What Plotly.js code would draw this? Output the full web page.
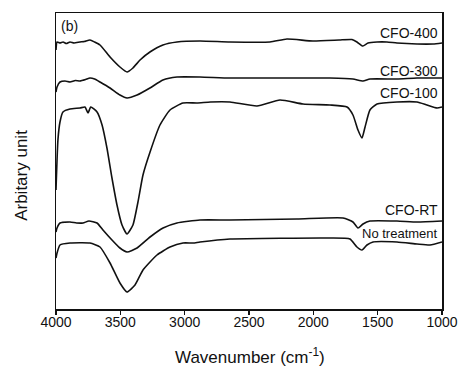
<!DOCTYPE html>
<html>
<head>
<meta charset="utf-8">
<script src="https://cdn.plot.ly/plotly-3.0.1.min.js"></script>
<style>html,body{margin:0;padding:0;background:#fff;}#chart{width:461px;height:366px;}</style>
</head>
<body>
<div id="chart"></div>
<script>
// Wavenumbers (cm^-1) and arbitrary-unit intensities
const wn400 = [4000,3992,3969,3945,3920,3891,3860,3814,3780,3736,3700,3658,3580,3503,3448,3402,3347,3270,3169,3060,2881,2648,2337,2205,2003,1800,1700,1661,1615,1575,1505,1428,1350,1194,1070,1000];
const cfo400 = [259,267,266,267,265.5,267,266,267,267.5,269,267,264,252,242,237,241,249,257,264,267,268,267,267,270,268,269,269.5,267,263,266,267,267,266,265,265,266];

const wn300 = [4000,3992,3969,3930,3891,3850,3814,3770,3736,3700,3658,3580,3503,3448,3370,3270,3169,3060,2881,2648,2127,1871,1692,1614,1560,1350,1194,1000];
const cfo300 = [217,222,227,228,227,228.5,228,229.5,231,230,227,221,214,211,214,221,229,232,232,231,231,231,230,228,230,230,231,231];

const wn100 = [4000,3985,3969,3946,3891,3813,3775,3751,3730,3681,3642,3604,3565,3526,3487,3448,3402,3363,3324,3269,3192,3114,3013,2904,2800,2648,2438,2259,2080,1871,1738,1692,1653,1622,1598,1560,1505,1350,1194,1117,1039,1000];
const cfo100 = [119,169,187,197,200,201,202,196,202,197,184,161,131,104,84,75,84,107,134,157,184,199,206,206,207,207,203,209,205,204,202,194,179,171,182,199,205,207,207,204,201,202];

const wnRT = [4000,3992,3969,3891,3840,3790,3744,3681,3635,3565,3503,3448,3370,3269,3168,3060,2881,2648,2127,1769,1692,1653,1614,1560,1350,1194,1000];
const cfoRT = [77,81,86,87,86,86,88,86,79,69,61,57,61,72,81,86,89,89,90,91,87,81,85,88,88,87,88];

const wnNT = [4000,3992,3969,3891,3736,3658,3580,3503,3448,3386,3324,3215,3114,3013,2935,2881,2648,1871,1715,1661,1622,1583,1536,1350,1194,1093,1000];
const noTreat = [51,56,64,66,66,62,46,26,17,24,39,54,62,66,66,67,70,71,70,62,59,64,67,67,65,64,67];

const seriesNames = ["CFO-400","CFO-300","CFO-100","CFO-RT","No treatment"];
const labelY = [276,238,216,99,76];
const labelSize = [14,14,14,14,13];

const allX = [wn400, wn300, wn100, wnRT, wnNT];
const allY = [cfo400, cfo300, cfo100, cfoRT, noTreat];

const FONT = 'Liberation Sans, Arial, sans-serif';

const traces = allX.map((xs, i) => ({
  x: xs, y: allY[i], type: 'scatter', mode: 'lines', name: seriesNames[i],
  line: {color: '#111', width: 1.6, shape: 'spline', smoothing: 0.5},
  showlegend: false, hoverinfo: 'skip'
}));

const annotations = seriesNames.map((n, i) => ({
  x: 1000, y: labelY[i], xref: 'x', yref: 'y', text: n, showarrow: false,
  xanchor: 'right', yanchor: 'middle', xshift: -2,
  font: {family: FONT, size: labelSize[i], color: '#111'}
}));
annotations.push({
  x: 3975, y: 283, xref: 'x', yref: 'y', text: '(b)', showarrow: false,
  xanchor: 'left', yanchor: 'middle',
  font: {family: FONT, size: 14, color: '#111'}
});
// axis titles
annotations.push({
  x: 0.503, y: -0.159, xref: 'paper', yref: 'paper', text: 'Wavenumber (cm<sup>-1</sup>)',
  showarrow: false, xanchor: 'center', yanchor: 'middle',
  font: {family: FONT, size: 17, color: '#111'}
});
annotations.push({
  x: -0.088, y: 0.45, xref: 'paper', yref: 'paper', text: 'Arbitary unit',
  showarrow: false, xanchor: 'center', yanchor: 'middle', textangle: -90,
  font: {family: FONT, size: 17, color: '#111'}
});

const layout = {
  width: 461, height: 366,
  margin: {l: 56, r: 19, t: 13, b: 57},
  paper_bgcolor: '#fff', plot_bgcolor: '#fff',
  font: {family: FONT, color: '#111'},
  xaxis: {
    range: [4000, 1000], tickmode: 'linear', tick0: 1000, dtick: 500,
    ticks: 'outside', ticklen: 4, tickwidth: 1.2, tickcolor: '#111',
    ticklabelstandoff: -4,
    showline: true, linecolor: '#111', linewidth: 1.5, mirror: true,
    showgrid: false, zeroline: false,
    tickfont: {size: 14, color: '#111'}
  },
  yaxis: {
    range: [0, 296], showticklabels: false, ticks: '',
    showline: true, linecolor: '#111', linewidth: 1.5, mirror: true,
    showgrid: false, zeroline: false
  },
  annotations: annotations
};

Plotly.newPlot('chart', traces, layout, {staticPlot: true, displayModeBar: false});
</script>
</body>
</html>
